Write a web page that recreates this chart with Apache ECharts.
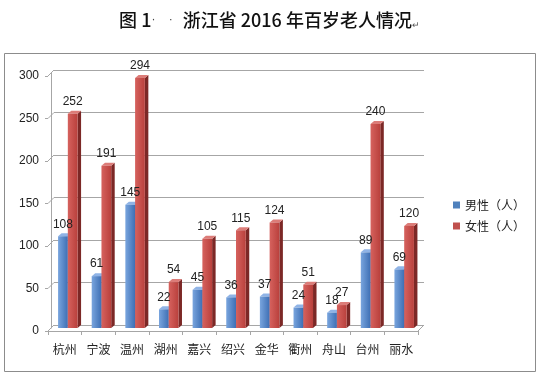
<!DOCTYPE html>
<html><head><meta charset="utf-8">
<script src="https://cdn.jsdelivr.net/npm/echarts@6/dist/echarts.min.js"></script>
<style>html,body{margin:0;padding:0;background:#fff}#c{width:539px;height:374px}</style>
</head><body><div id="c"></div>
<script>
const categories = ['杭州','宁波','温州','湖州','嘉兴','绍兴','金华','衢州','舟山','台州','丽水'];
const male = [108,61,145,22,45,36,37,24,18,89,69];
const female = [252,191,294,54,105,115,124,51,27,240,120];
const yTicks = [0,50,100,150,200,250,300];
const seriesNames = ['男性（人）','女性（人）'];

const CJK = "'Noto Sans CJK SC','Microsoft YaHei',sans-serif";
const NUM = "'Liberation Sans','Noto Sans CJK SC',sans-serif";
const DX = 3.5, DY = 3;

const palette = [
  {front:['#79a5de','#3e6fb4'], side:'#2b4e86', top:'#8fb3e6', legend:'#4F81BD'},
  {front:['#d6625e','#b9403c'], side:'#7c2826', top:'#dc7c78', legend:'#C0504D'}
];

function barRender(si){
  return function(params, api){
    const x = api.value(0), v = api.value(1);
    const base = api.coord([x, 0]);
    const top = api.coord([x, v]);
    const band = api.size([1, 0])[0];
    const w = band * 0.29;
    const xl = si === 0 ? base[0] - w : base[0];
    const c = palette[si];
    return {type:'group', children:[
      {type:'polygon', shape:{points:[[xl+w, top[1]],[xl+w+DX, top[1]-DY],[xl+w+DX, base[1]-DY],[xl+w, base[1]]]},
        style:{fill:c.side}},
      {type:'polygon', shape:{points:[[xl, top[1]],[xl+DX, top[1]-DY],[xl+w+DX, top[1]-DY],[xl+w, top[1]]]},
        style:{fill:c.top}},
      {type:'rect', shape:{x:xl, y:top[1], width:w, height:base[1]-top[1]},
        style:{fill:new echarts.graphic.LinearGradient(0,0,1,0,[{offset:0,color:c.front[0]},{offset:1,color:c.front[1]}])}}
    ]};
  };
}
function labelRender(si){
  return function(params, api){
    const x = api.value(0), v = api.value(1);
    const base = api.coord([x, 0]);
    const top = api.coord([x, v]);
    const band = api.size([1, 0])[0];
    const w = band * 0.29;
    const xl = si === 0 ? base[0] - w : base[0];
    return {type:'text', style:{text:String(v), x:xl + w/2, y:top[1]-DY-3, align:'center', verticalAlign:'bottom',
      fill:'#222', font:"12px " + NUM}};
  };
}
function wallRender(params, api){
  const cs = params.coordSys;
  const v = api.value(1);
  const y = api.coord([0, v])[1];
  const ch = [{type:'line', shape:{x1:cs.x, y1:y, x2:cs.x+6, y2:y-6}, style:{stroke:'#a6a6a6', lineWidth:1}}];
  if (v === 0) {
    ch.push({type:'line', shape:{x1:cs.x+cs.width, y1:y, x2:cs.x+cs.width+6, y2:y-6}, style:{stroke:'#a6a6a6', lineWidth:1}});
  }
  return {type:'group', children:ch};
}

const grids = [
  {left:54, right:115, top:70, bottom:49},
  {left:51, right:118, top:73, bottom:46},
  {left:48, right:121, top:76, bottom:43}
];
const yBase = {type:'value', min:0, max:300, interval:50};
const chart = echarts.init(document.getElementById('c'), null, {renderer:'canvas'});
chart.setOption({
  backgroundColor:'#fff',
  animation:false,
  title:{text:'图 1{d|·    ·   }浙江省 2016 年百岁老人情况{r|↵}', left:'center', top:6,
    textStyle:{fontSize:18, fontWeight:500, color:'#111', fontFamily:CJK,
      rich:{d:{fontSize:12, fontWeight:'normal', color:'#444', fontFamily:NUM},
            r:{fontSize:9, color:'#555', fontFamily:CJK, verticalAlign:'bottom'}}}},
  legend:{orient:'vertical', left:448, top:194, itemWidth:7, itemHeight:7, itemGap:9, icon:'rect',
    data:seriesNames, textStyle:{fontSize:12, color:'#222', fontFamily:CJK}},
  graphic:[{type:'rect', shape:{x:4.5, y:53.5, width:531, height:318}, style:{fill:'none', stroke:'#8c8c8c', lineWidth:1}, z:-1}],
  grid:grids,
  xAxis:[
    {gridIndex:0, type:'category', data:categories, show:false},
    {gridIndex:1, type:'category', data:categories, show:false},
    {gridIndex:2, type:'category', data:categories,
      axisLine:{lineStyle:{color:'#a6a6a6'}}, axisTick:{show:true, length:4, lineStyle:{color:'#a6a6a6'}},
      axisLabel:{color:'#222', fontSize:12, margin:12, fontFamily:CJK}}
  ],
  yAxis:[
    Object.assign({gridIndex:0, axisLabel:{show:false}, axisLine:{show:false}, axisTick:{show:false},
      splitLine:{show:true, lineStyle:{color:'#a6a6a6'}}}, yBase),
    Object.assign({gridIndex:1, axisLabel:{show:false}, axisLine:{show:true, lineStyle:{color:'#a6a6a6'}}, axisTick:{show:false},
      splitLine:{show:false}}, yBase),
    Object.assign({gridIndex:2, axisLine:{show:false}, axisTick:{show:true, length:3, lineStyle:{color:'#a6a6a6'}},
      splitLine:{show:false}, axisLabel:{color:'#222', fontSize:12, margin:9, fontFamily:NUM}}, yBase)
  ],
  series:[
    {type:'custom', name:'wall', xAxisIndex:2, yAxisIndex:2, data:yTicks.map(v=>[0,v]), renderItem:wallRender, silent:true, z:1},
    {type:'custom', name:seriesNames[0], xAxisIndex:1, yAxisIndex:1, data:male.map((v,i)=>[i,v]), renderItem:barRender(0),
      itemStyle:{color:palette[0].legend}, z:2},
    {type:'custom', name:seriesNames[1], xAxisIndex:1, yAxisIndex:1, data:female.map((v,i)=>[i,v]), renderItem:barRender(1),
      itemStyle:{color:palette[1].legend}, z:2},
    {type:'custom', name:'lab0', xAxisIndex:1, yAxisIndex:1, data:male.map((v,i)=>[i,v]), renderItem:labelRender(0), z:3, silent:true},
    {type:'custom', name:'lab1', xAxisIndex:1, yAxisIndex:1, data:female.map((v,i)=>[i,v]), renderItem:labelRender(1), z:3, silent:true}
  ]
});
</script></body></html>
